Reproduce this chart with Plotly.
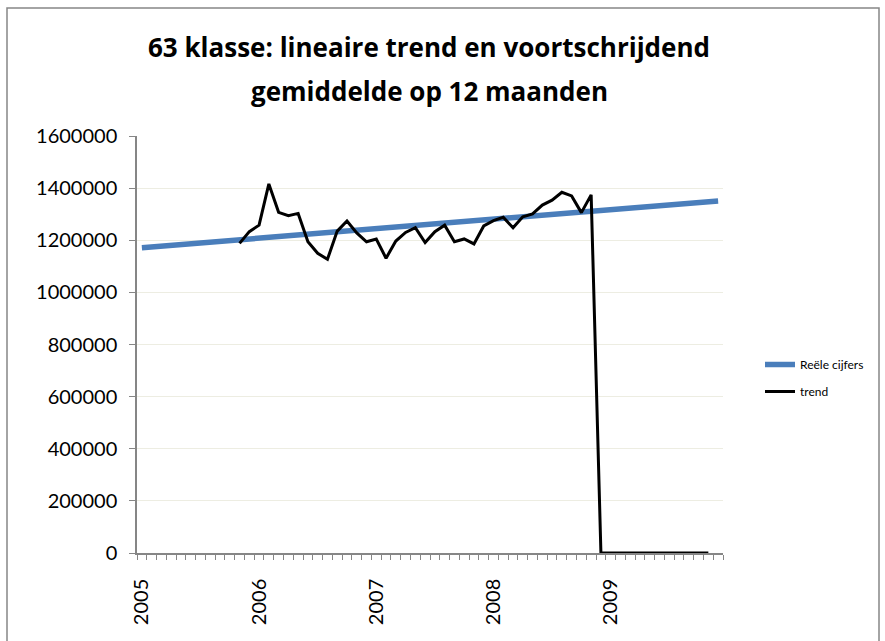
import plotly.graph_objects as go

# Monthly categories, January 2005 through December 2009
years = ["2005", "2006", "2007", "2008", "2009"]
months = [f"{y}-{m:02d}" for y in years for m in range(1, 13)]

# Straight blue series: values at the first and last month
reeel_months = ["2005-01", "2009-12"]
reeel_values = [1171500, 1350700]

# 12-month moving average ("trend"), November 2005 through November 2009
trend_months = months[10:59]
trend_values = [
    1188000, 1233000, 1258000, 1416000, 1307000, 1294000, 1303000, 1194000,
    1150000, 1127000, 1235000, 1274000, 1228000, 1194000, 1205000, 1131000,
    1197000, 1230000, 1248000, 1191000, 1233000, 1258000, 1194000, 1205000,
    1186000, 1255000, 1275000, 1288000, 1248000, 1290000, 1301000, 1335000,
    1354000, 1384000, 1370000, 1306000, 1374000,
    0, 0, 0, 0, 0, 0, 0, 0, 0, 0, 0, 0,
]

y_ticks = [0, 200000, 400000, 600000, 800000, 1000000, 1200000, 1400000, 1600000]

title_lines = ["63 klasse: lineaire trend en voortschrijdend",
               "gemiddelde op 12 maanden"]

pos = {m: i for i, m in enumerate(months)}
year_pos = [pos[f"{y}-01"] for y in years]

FONT = "Lato, 'Open Sans', sans-serif"
TITLE_FONT = "'Open Sans', Lato, sans-serif"
AXIS_GREY = "#868686"

fig = go.Figure()
fig.add_trace(go.Scatter(
    x=[pos[m] for m in reeel_months], y=reeel_values,
    mode="lines", name="Reële cijfers",
    line=dict(color="#4a7ebb", width=5.5),
    legendgroup="a",
))
fig.add_trace(go.Scatter(
    x=[pos[m] for m in trend_months], y=trend_values,
    mode="lines", name="trend",
    line=dict(color="#000000", width=3),
    legendgroup="b",
))

# Two-line chart title, one annotation per line (centred above the plot)
title_annotations = [
    dict(text=f"<b>{line}</b>", xref="paper", yref="paper",
         x=(429 - 137) / 586, y=(553 - cy) / 417,
         xanchor="center", yanchor="middle", showarrow=False,
         font=dict(size=26, family=TITLE_FONT, color="#000000"))
    for line, cy in zip(title_lines, [47, 91])
]

fig.update_layout(
    width=885, height=641,
    margin=dict(l=137, r=162, t=136, b=88),
    paper_bgcolor="white", plot_bgcolor="white",
    font=dict(family=FONT, color="#000000"),
    annotations=title_annotations,
    showlegend=True,
    legend=dict(
        x=(760 - 137) / 586, xanchor="left",
        y=(553 - 350) / 417, yanchor="top",
        font=dict(size=12, family=FONT),
        traceorder="grouped", tracegroupgap=8,
        bgcolor="rgba(0,0,0,0)",
    ),
    xaxis=dict(
        range=[-0.5, len(months) - 0.5],
        tickmode="array", tickvals=year_pos, ticktext=years,
        tickangle=-90, tickfont=dict(size=20, family=FONT),
        ticks="outside", ticklen=6, tickcolor="rgba(0,0,0,0)",
        ticklabelstandoff=10,
        minor=dict(
            tickmode="linear", tick0=-0.5, dtick=1,
            ticks="outside", ticklen=5, tickcolor=AXIS_GREY, tickwidth=1,
            showgrid=False,
        ),
        showline=True, linecolor=AXIS_GREY, linewidth=1.5,
        showgrid=False, zeroline=False,
    ),
    yaxis=dict(
        range=[0, 1600000],
        tickmode="array", tickvals=y_ticks, ticktext=[str(v) for v in y_ticks],
        tickfont=dict(size=20, family=FONT),
        ticks="outside", ticklen=6, tickcolor=AXIS_GREY,
        ticklabelstandoff=8,
        showline=True, linecolor=AXIS_GREY, linewidth=1.5,
        showgrid=True, gridcolor="#ededE2", gridwidth=1,
        zeroline=False,
    ),
    shapes=[dict(
        type="rect", xref="paper", yref="paper",
        x0=(7 - 137) / 586, x1=(879 - 137) / 586,
        y0=(553 - 660) / 417, y1=(553 - 8) / 417,
        line=dict(color=AXIS_GREY, width=1.5), fillcolor="rgba(0,0,0,0)",
        layer="below",
    )],
)

fig.write_html("out.html")
